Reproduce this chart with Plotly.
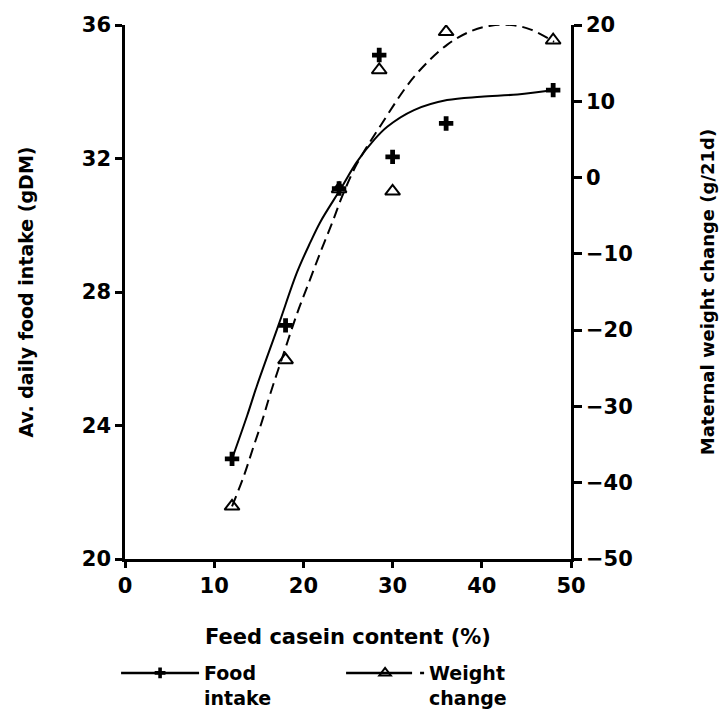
import plotly.graph_objects as go

# ---- data ----
casein_pts = [12, 18, 24, 28.5, 30, 36, 48]
food_intake = [23.0, 27.0, 31.1, 35.1, 32.05, 33.05, 34.05]
weight_change = [-43.1, -23.9, -1.5, 14.1, -1.8, 19.1, 18.0]

# fitted curves
food_fit_x = [12.0, 13.7, 14.8, 17.2, 19.3, 20.8, 21.9, 24.2, 26.0, 27.9, 29.4, 32.4, 36.1, 39.9, 44.0, 48.1]
food_fit_y = [23.0, 24.3, 25.2, 27.0, 28.6, 29.5, 30.1, 31.1, 31.9, 32.55, 32.95, 33.45, 33.75, 33.85, 33.92, 34.05]
weight_fit_x = [12.0, 13.3, 14.4, 15.4, 16.3, 17.8, 19.3, 20.7, 22.0, 23.2, 24.4, 26.0, 28.7, 32.4, 36.1, 38.8, 41.0, 43.3, 45.5, 48.1]
weight_fit_y = [-43.1, -39.2, -35.3, -31.8, -28.3, -23.0, -17.8, -13.5, -9.5, -6.0, -2.3, 1.8, 6.9, 13.2, 17.4, 19.2, 19.9, 20.0, 19.4, 17.8]

x_ticks = [0, 10, 20, 30, 40, 50]
left_ticks = [20, 24, 28, 32, 36]
right_ticks = [-50, -40, -30, -20, -10, 0, 10, 20]

BLACK = "black"
DASH = "11px,6px"

fig = go.Figure()
fig.add_trace(go.Scatter(x=food_fit_x, y=food_fit_y, mode="lines",
                         line=dict(color=BLACK, width=2, shape="spline"),
                         showlegend=False, hoverinfo="skip"))
fig.add_trace(go.Scatter(x=weight_fit_x, y=weight_fit_y, mode="lines", yaxis="y2",
                         line=dict(color=BLACK, width=2, shape="spline", dash=DASH),
                         showlegend=False, hoverinfo="skip"))
fig.add_trace(go.Scatter(x=casein_pts, y=food_intake, mode="markers",
                         marker=dict(symbol="cross", size=12, color=BLACK),
                         showlegend=False))
fig.add_trace(go.Scatter(x=casein_pts, y=weight_change, mode="markers", yaxis="y2",
                         marker=dict(symbol="triangle-up-open", size=13, color=BLACK,
                                     line=dict(width=2, color=BLACK)),
                         showlegend=False))
# legend entries
fig.add_trace(go.Scatter(x=[None], y=[None], mode="lines+markers", name="Food<br>intake",
                         line=dict(color=BLACK, width=2.5),
                         marker=dict(symbol="cross", size=9, color=BLACK)))
fig.add_trace(go.Scatter(x=[None], y=[None], mode="lines+markers", name="Weight<br>change",
                         yaxis="y2",
                         line=dict(color=BLACK, width=2.5, dash="66px,8px,4px,100px"),
                         marker=dict(symbol="triangle-up-open", size=10, color=BLACK,
                                     line=dict(width=2, color=BLACK))))

axis_common = dict(showgrid=False, zeroline=False, showline=True, linecolor=BLACK,
                   linewidth=2.5, ticks="outside", tickcolor=BLACK, tickwidth=2.5,
                   tickfont=dict(size=21))

fig.update_layout(
    width=724, height=713,
    margin=dict(l=125, r=153, t=25, b=154, autoexpand=False),
    paper_bgcolor="white", plot_bgcolor="white",
    font=dict(family="DejaVu Sans", size=20, color=BLACK, weight="bold"),
    xaxis=dict(range=[0, 50], tickvals=x_ticks, ticklen=6,
               title=dict(text="Feed casein content (%)", standoff=33,
                          font=dict(size=21)), **axis_common),
    yaxis=dict(range=[20, 36], tickvals=left_ticks, ticklen=7,
               title=dict(text="Av. daily food intake (gDM)", standoff=44,
                          font=dict(size=19)), **axis_common),
    yaxis2=dict(range=[-50, 20], tickvals=right_ticks, ticklen=8, overlaying="y",
                side="right",
                title=dict(text="Maternal weight change (g/21d)", standoff=70,
                           font=dict(size=18)), **axis_common),
    legend=dict(orientation="h", xref="paper", yref="paper",
                x=-0.02, y=-0.178, xanchor="left", yanchor="top",
                itemwidth=78, entrywidth=132, valign="top", font=dict(size=19),
                bgcolor="rgba(0,0,0,0)"),
    showlegend=True,
)

fig.write_html("out.html")
